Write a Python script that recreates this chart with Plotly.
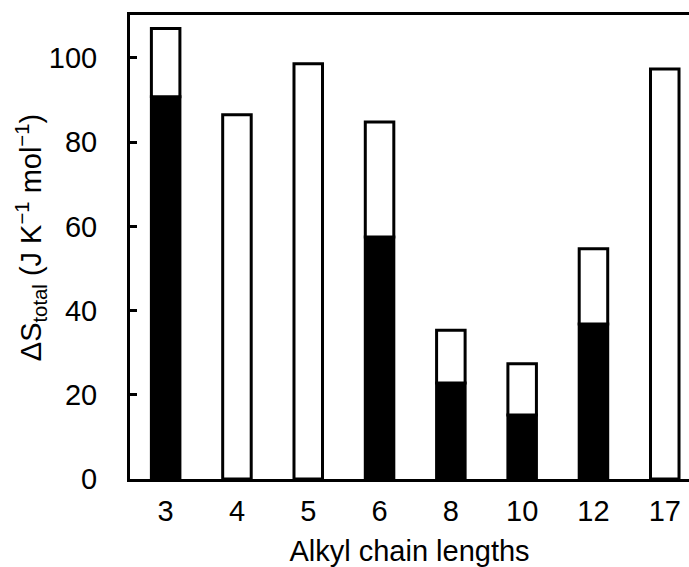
import plotly.graph_objects as go

# Alkyl chain lengths (x categories)
chain_lengths = ["3", "4", "5", "6", "8", "10", "12", "17"]
# Filled (black) contribution to the total entropy change
black_part = [90.8, None, None, 57.5, 22.8, 15.2, 36.8, None]
# Total entropy change for each chain length
total = [107.0, 86.5, 98.6, 84.8, 35.3, 27.4, 54.7, 97.4]

# Open (white) segment stacked on top of the black segment
white_part = [t - (b or 0) for t, b in zip(total, black_part)]

FONT = "Liberation Sans, Arial, sans-serif"
SIZE = 29

fig = go.Figure()
fig.add_trace(go.Bar(
    x=chain_lengths, y=black_part,
    marker=dict(color="black", line=dict(color="black", width=3)),
    showlegend=False,
))
fig.add_trace(go.Bar(
    x=chain_lengths, y=white_part, base=[b or 0 for b in black_part],
    marker=dict(color="white", line=dict(color="black", width=3)),
    showlegend=False,
))

fig.update_layout(
    width=689, height=567,
    margin=dict(l=130, r=0, t=15, b=88),
    paper_bgcolor="white", plot_bgcolor="white",
    barmode="overlay",
    bargap=0.6,
    font=dict(family=FONT, size=SIZE, color="black"),
)

fig.update_xaxes(
    type="category",
    range=[-0.5, 7.34],
    showline=True, linecolor="black", linewidth=3, mirror=True,
    ticks="", showgrid=False, zeroline=False,
    tickfont=dict(size=SIZE),
    ticklabelstandoff=4,
    title=dict(text="Alkyl chain lengths", font=dict(size=SIZE), standoff=18),
)
fig.update_yaxes(
    range=[0, 110.2],
    tickvals=[0, 20, 40, 60, 80, 100],
    showline=True, linecolor="black", linewidth=3, mirror=False,
    ticks="inside", ticklen=7, tickwidth=3, tickcolor="black",
    showgrid=False, zeroline=False,
    tickfont=dict(size=SIZE),
    ticklabelstandoff=24,
)

# Vertical y-axis title placed as a rotated annotation
fig.add_annotation(
    text="ΔS<sub>total</sub> (J K<sup>−1</sup> mol<sup>−1</sup>)",
    xref="paper", yref="paper", x=-0.177, y=0.519,
    xanchor="center", yanchor="middle",
    textangle=-90, showarrow=False,
    font=dict(size=SIZE),
)

fig.write_html("out.html")
